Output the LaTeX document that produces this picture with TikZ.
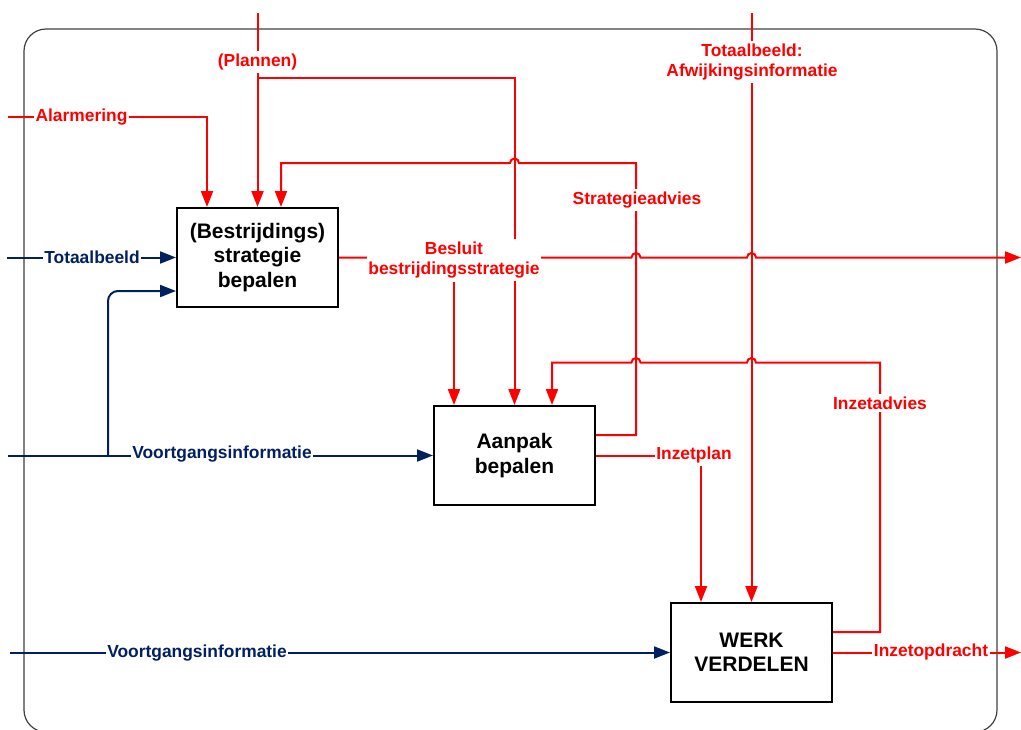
\documentclass[tikz,border=0pt]{standalone}
\usepackage{fontspec}
\setmainfont{Liberation Sans}
\usetikzlibrary{arrows.meta}
\definecolor{rd}{RGB}{255,0,0}
\definecolor{bl}{RGB}{0,32,96}
\pgfdeclarelayer{bg}
\pgfsetlayers{bg,main}
\begin{document}
\begin{tikzpicture}[x=1pt,y=-1pt,
  R/.style={draw=rd,line width=2pt},
  B/.style={draw=bl,line width=2pt},
  tip/.style={-{Triangle[length=16pt,width=12pt]}},
  box/.style={draw=black,line width=2pt,minimum width=161pt,minimum height=99pt,inner sep=0pt,align=center,font=\fontsize{21}{24.5}\selectfont\bfseries},
  lbl/.style={fill=white,inner xsep=1.5pt,inner ysep=3pt,align=center,font=\fontsize{17.4}{20.5}\selectfont\bfseries},
  rl/.style={lbl,text=rd},
  bll/.style={lbl,text=bl}]
\useasboundingbox (0,0) rectangle (1021,729);

% process boxes
\node[box] (b1) at (257.5,257.5) {(Bestrijdings)\\strategie\\bepalen};
\node[box] (b2) at (514.5,455.5) {Aanpak\\bepalen};
\node[box] (b3) at (751.5,652.5) {WERK\\VERDELEN};

% labels
\node[rl] (alL) at (81.5,117) {Alarmering};
\node[rl] (plL) at (257.5,62) {(Plannen)};
\node[rl] (saL) at (637,200) {Strategieadvies};
\node[rl] (besL) at (454,260) {Besluit\\bestrijdingsstrategie};
\node[rl] (taL) at (752,62) {Totaalbeeld:\\Afwijkingsinformatie};
\node[rl] (iaL) at (880,403) {Inzetadvies};
\node[rl] (ipL) at (694,455) {Inzetplan};
\node[rl] (ioL) at (931,652) {Inzetopdracht};
\node[bll] (tbL) at (92,257) {Totaalbeeld};
\node[bll] (vg1L) at (222,454) {Voortgangsinformatie};
\node[bll] (vg2L) at (197,653) {Voortgangsinformatie};

% free ends
\coordinate (alS) at (8,117);
\coordinate (plT) at (257.5,13);
\coordinate (plJ) at (257.5,78);
\coordinate (taT) at (751.5,13);
\coordinate (besE) at (1021,257.5);
\coordinate (ioE) at (1021,652.5);
\coordinate (tbS) at (7,257.5);
\coordinate (vg1S) at (8,455.5);
\coordinate (vgJ) at (108,455.5);
\coordinate (vg2S) at (10,652.5);

\begin{pgfonlayer}{bg}
\draw[line width=1.2pt,draw=black!75,rounded corners=22pt] (24,29) rectangle (997,732);

% Alarmering
\draw[R,tip] (alS) -| ([xshift=-50.5pt]b1.north);
% Plannen
\draw[R,tip] (plT) -- (b1.north);
\draw[R,tip] (plJ) -| (b2.north);
% Strategieadvies
\draw[R,tip] ([yshift=20.5pt]b2.east) -- (636,435) -- (636,163) -- (519,163)
  arc[start angle=0,end angle=180,radius=4.5pt] -- (281,163) -- ([xshift=23.5pt]b1.north);
% Besluit bestrijdingsstrategie
\draw[R,tip] (b1.east) -- (631.5,257.5) arc[start angle=180,end angle=0,radius=4.5pt]
  -- (747,257.5) arc[start angle=180,end angle=0,radius=4.5pt] -- (besE);
\draw[R,tip] (besL.south) -- (besL.south |- b2.north);
% Totaalbeeld: Afwijkingsinformatie
\draw[R,tip] (taT) -- (b3.north);
% Inzetadvies
\draw[R,tip] ([yshift=20.5pt]b3.east) -- (880,632) -- (880,362.5) -- (756,362.5)
  arc[start angle=0,end angle=180,radius=4.5pt] -- (640.5,362.5)
  arc[start angle=0,end angle=180,radius=4.5pt] -- (552,362.5) -- ([xshift=37.5pt]b2.north);
% Inzetplan
\draw[R,tip] (b2.east) -| ([xshift=-50.5pt]b3.north);
% Inzetopdracht
\draw[R,tip] (b3.east) -- (ioE);
% blue inputs
\draw[B,tip] (tbS) -- (b1.west);
\draw[B,tip] (vg1S) -- (b2.west);
\draw[B,tip,rounded corners=10pt] (vgJ) |- ([yshift=-33.5pt]b1.west);
\draw[B,tip] (vg2S) -- (b3.west);
\end{pgfonlayer}
\end{tikzpicture}
\end{document}
